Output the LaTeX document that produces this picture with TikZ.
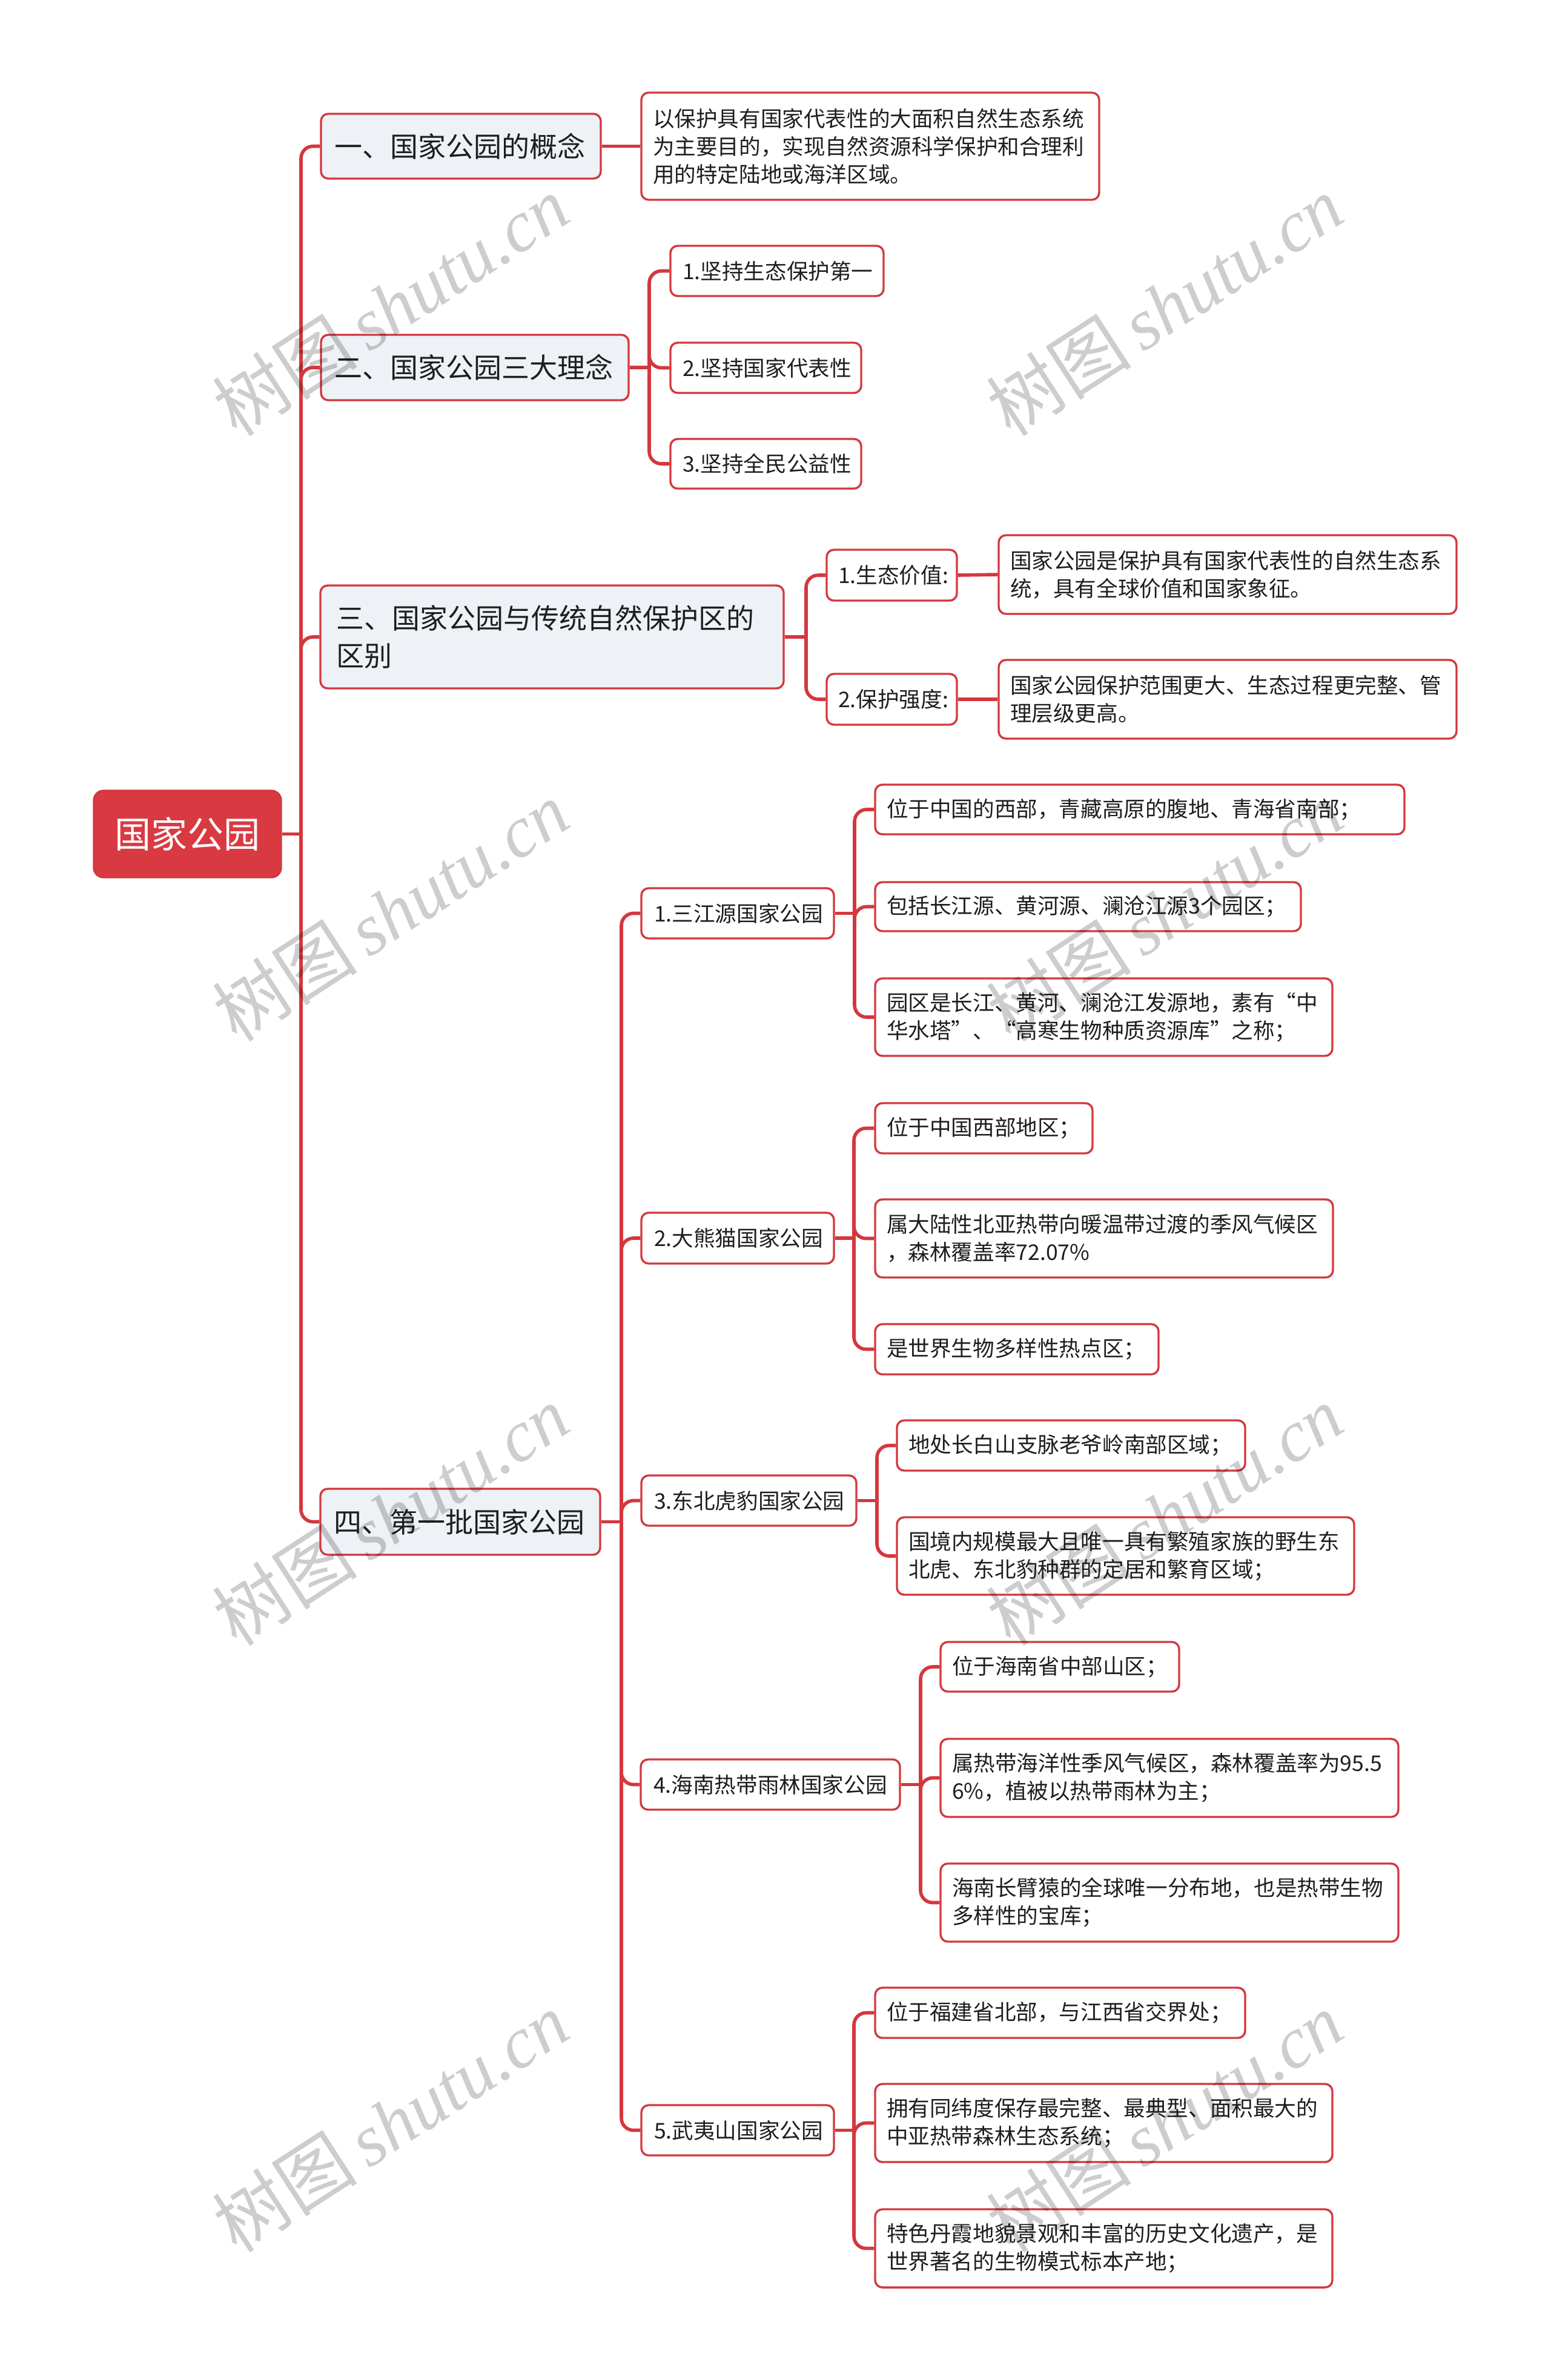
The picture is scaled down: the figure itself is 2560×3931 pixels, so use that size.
\documentclass[tikz,border=0pt]{standalone}
\usepackage{fontspec}
\setmainfont{Noto Sans CJK SC}
\newfontfamily\wmserif{Liberation Serif}
\definecolor{bred}{HTML}{D4373E}
\definecolor{rootred}{HTML}{D93A42}
\definecolor{lgray}{HTML}{EEF1F5}
\definecolor{txt}{HTML}{1E1E1E}
\definecolor{wmgray}{HTML}{CDCDCD}
\tikzset{
 basebox/.style={draw=bred, line width=0.85pt, rounded corners=3pt, text=txt, align=left, anchor=center},
 rootbox/.style={basebox, fill=rootred, text=white, font=\fontsize{15}{18}\selectfont, align=center, rounded corners=4pt},
 lvone/.style={basebox, fill=lgray, font=\fontsize{11.5}{15.5}\selectfont},
 lvtwo/.style={basebox, fill=white, font=\fontsize{8.9}{11.5}\selectfont},
 conn/.style={draw=bred, line width=1.4pt, rounded corners=5pt},
 wm/.style={text=wmgray, rotate=33, inner sep=0pt}
}
% #1 name, #2 style, #3 L, #4 T, #5 R, #6 B, #7 pad, #8 text
\newcommand\mknode[8]{%
 \pgfmathsetmacro\mkw{(#5-#3)*0.25}%
 \pgfmathsetmacro\mkh{(#6-#4)*0.25}%
 \pgfmathsetmacro\mktw{(#5-#3-2*#7)*0.25}%
 \pgfmathsetmacro\mkpad{#7*0.25}%
 \node[#2, minimum width=\mkw pt, minimum height=\mkh pt, text width=\mktw pt, inner xsep=\mkpad pt, inner ysep=0pt] (#1) at ({(#3+#5)/2},{(#4+#6)/2}) {#8};}
\newcommand\wmtext{{\fontsize{30}{30}\selectfont 树图\,\wmserif\itshape shutu.cn}}
\begin{document}
\begin{tikzpicture}[x=0.25pt,y=-0.25pt]
\useasboundingbox (0,0) rectangle (2560,3931);
% root and level 1
\mknode{root}{rootbox}{155}{1306}{464}{1449}{20}{国家公园}
\mknode{a1}{lvone}{530}{188}{992}{295}{22}{一、国家公园的概念}
\mknode{a2}{lvone}{530}{553}{1038}{661}{22}{二、国家公园三大理念}
\mknode{a3}{lvone}{529}{967}{1294}{1137}{26}{三、国家公园与传统自然保护区的\\区别}
\mknode{a4}{lvone}{529}{2459}{991}{2568}{22}{四、第一批国家公园}
% branch 1
\mknode{d1}{lvtwo}{1059}{153}{1815}{330}{19}{以保护具有国家代表性的大面积自然生态系统\\为主要目的，实现自然资源科学保护和合理利\\用的特定陆地或海洋区域。}
% branch 2
\mknode{b1}{lvtwo}{1107}{406}{1459}{489}{20}{1.坚持生态保护第一}
\mknode{b2}{lvtwo}{1107}{566}{1422}{649}{20}{2.坚持国家代表性}
\mknode{b3}{lvtwo}{1107}{725}{1422}{807}{20}{3.坚持全民公益性}
% branch 3
\mknode{c1}{lvtwo}{1365}{908}{1580}{992}{19}{1.生态价值:}
\mknode{c2}{lvtwo}{1365}{1113}{1580}{1197}{19}{2.保护强度:}
\mknode{c1d}{lvtwo}{1649}{884}{2405}{1014}{19}{国家公园是保护具有国家代表性的自然生态系\\统，具有全球价值和国家象征。}
\mknode{c2d}{lvtwo}{1649}{1090}{2405}{1220}{19}{国家公园保护范围更大、生态过程更完整、管\\理层级更高。}
% branch 4 level 2
\mknode{e1}{lvtwo}{1059}{1467}{1377}{1550}{21}{1.三江源国家公园}
\mknode{e2}{lvtwo}{1059}{2003}{1377}{2087}{21}{2.大熊猫国家公园}
\mknode{e3}{lvtwo}{1059}{2437}{1414}{2520}{21}{3.东北虎豹国家公园}
\mknode{e4}{lvtwo}{1058}{2906}{1486}{2989}{21}{4.海南热带雨林国家公园}
\mknode{e5}{lvtwo}{1059}{3477}{1377}{3560}{21}{5.武夷山国家公园}
% level 3
\mknode{f11}{lvtwo}{1445}{1296}{2319}{1378}{19}{位于中国的西部，青藏高原的腹地、青海省南部；}
\mknode{f12}{lvtwo}{1445}{1457}{2148}{1538}{19}{包括长江源、黄河源、澜沧江源3个园区；}
\mknode{f13}{lvtwo}{1445}{1616}{2200}{1744}{19}{园区是长江、黄河、澜沧江发源地，素有“中\\华水塔”、“高寒生物种质资源库”之称；}
\mknode{f21}{lvtwo}{1445}{1822}{1804}{1905}{19}{位于中国西部地区；}
\mknode{f22}{lvtwo}{1445}{1981}{2201}{2110}{19}{属大陆性北亚热带向暖温带过渡的季风气候区\\，森林覆盖率72.07\%}
\mknode{f23}{lvtwo}{1445}{2187}{1913}{2270}{19}{是世界生物多样性热点区；}
\mknode{f31}{lvtwo}{1481}{2346}{2056}{2429}{19}{地处长白山支脉老爷岭南部区域；}
\mknode{f32}{lvtwo}{1481}{2506}{2236}{2634}{19}{国境内规模最大且唯一具有繁殖家族的野生东\\北虎、东北豹种群的定居和繁育区域；}
\mknode{f41}{lvtwo}{1553}{2712}{1947}{2794}{19}{位于海南省中部山区；}
\mknode{f42}{lvtwo}{1553}{2872}{2309}{3001}{19}{属热带海洋性季风气候区，森林覆盖率为95.5\\6\%，植被以热带雨林为主；}
\mknode{f43}{lvtwo}{1553}{3078}{2309}{3207}{19}{海南长臂猿的全球唯一分布地，也是热带生物\\多样性的宝库；}
\mknode{f51}{lvtwo}{1445}{3283}{2056}{3366}{19}{位于福建省北部，与江西省交界处；}
\mknode{f52}{lvtwo}{1445}{3442}{2200}{3571}{19}{拥有同纬度保存最完整、最典型、面积最大的\\中亚热带森林生态系统；}
\mknode{f53}{lvtwo}{1445}{3649}{2200}{3778}{19}{特色丹霞地貌景观和丰富的历史文化遗产，是\\世界著名的生物模式标本产地；}
% junction coordinates
\coordinate (t0) at (497,1377.5);
\coordinate (t2) at (1072,607);
\coordinate (t3) at (1331,1052);
\coordinate (t4) at (1026,2513.5);
\coordinate (s1) at (1411,1508.5);
\coordinate (s2) at (1410,2045);
\coordinate (s3) at (1448,2478.5);
\coordinate (s4) at (1520,2947.5);
\coordinate (s5) at (1410,3518.5);
% connectors
\draw[conn] (root.east) -- (t0);
\foreach \n in {a1,a2,a3,a4} \draw[conn] (t0) |- (\n.west);
\draw[conn] (a1.east) -- (d1.west);
\draw[conn] (a2.east) -- (t2);
\foreach \n in {b1,b2,b3} \draw[conn] (t2) |- (\n.west);
\draw[conn] (a3.east) -- (t3);
\foreach \n in {c1,c2} \draw[conn] (t3) |- (\n.west);
\draw[conn] (c1.east) -- (c1d.west);
\draw[conn] (c2.east) -- (c2d.west);
\draw[conn] (a4.east) -- (t4);
\foreach \n in {e1,e2,e3,e4,e5} \draw[conn] (t4) |- (\n.west);
\draw[conn] (e1.east) -- (s1);
\foreach \n in {f11,f12,f13} \draw[conn] (s1) |- (\n.west);
\draw[conn] (e2.east) -- (s2);
\foreach \n in {f21,f22,f23} \draw[conn] (s2) |- (\n.west);
\draw[conn] (e3.east) -- (s3);
\foreach \n in {f31,f32} \draw[conn] (s3) |- (\n.west);
\draw[conn] (e4.east) -- (s4);
\foreach \n in {f41,f42,f43} \draw[conn] (s4) |- (\n.west);
\draw[conn] (e5.east) -- (s5);
\foreach \n in {f51,f52,f53} \draw[conn] (s5) |- (\n.west);
% watermarks
\begin{scope}[blend mode=multiply]
\node[wm] (wm1) at (645,505) {\wmtext};
\node[wm] (wm2) at (1923,505) {\wmtext};
\node[wm] (wm3) at (645,1505) {\wmtext};
\node[wm] (wm4) at (1923,1505) {\wmtext};
\node[wm] (wm5) at (645,2503) {\wmtext};
\node[wm] (wm6) at (1923,2503) {\wmtext};
\node[wm] (wm7) at (645,3505) {\wmtext};
\node[wm] (wm8) at (1923,3505) {\wmtext};
\end{scope}
\end{tikzpicture}
\end{document}
